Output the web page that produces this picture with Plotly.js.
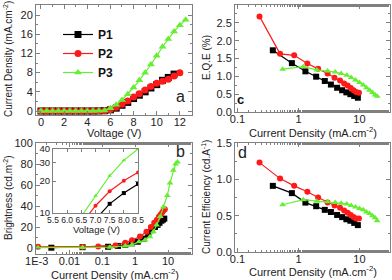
<!DOCTYPE html>
<html><head><meta charset="utf-8">
<script src="https://cdn.plot.ly/plotly-3.0.1.min.js"></script>
<style>html,body{margin:0;padding:0;background:#fff}#c{width:392px;height:280px}</style>
</head><body><div id="c"></div>
<script>
// ---- Panel a: J-V ----
const vP1 = [0,0.5,1,1.5,2,2.5,3,3.5,4,4.5,5,5.5,6,6.5,7,7.5,8,8.5,9,9.5,10,10.5,11,11.5];
const jP1 = [0,0,0,0,0,0,0,0,0,0,0.02,0.06,0.25,0.6,1.2,1.8,2.6,3.3,4.0,4.8,5.5,6.4,7.0,7.7];
const vP2 = [0,0.5,1,1.5,2,2.5,3,3.5,4,4.5,5,5.5,6,6.5,7,7.5,8,8.5,9,9.5,10,10.5,11,11.5,12];
const jP2 = [0,0,0,0,0,0,0,0,0,0,0.02,0.08,0.3,0.8,1.4,2.1,2.9,3.6,4.4,5.1,5.8,6.2,6.6,7.3,8.0];
const vP3 = [0,0.5,1,1.5,2,2.5,3,3.5,4,4.5,5,5.5,6,6.5,7,7.5,8,8.5,9,9.5,10,10.5,11,11.5,12,12.5];
const jP3 = [0,0,0,0,0,0,0,0,0,0,0.03,0.12,0.6,1.3,2.3,3.5,4.9,6.4,8.0,9.7,11.5,13.4,15.0,16.6,17.9,19.0];

// ---- Panel b: brightness vs current density ----
const bJ1 = [0.0028,0.025,0.15,0.3,0.5,0.8,1.2,1.8,2.5,3.2,4.0,4.8,5.5,6.3,7.0,7.7];
const bL1 = [0.3,0.8,1.2,2,3,4.5,6,9,13,17,20,22,24,26,27,28];
const bJ2 = [0.0011,0.025,0.075,0.25,0.5,0.8,1.4,2.2,3.0,3.8,4.6,5.3,6.0,6.7,7.4,8.0];
const bL2 = [1.2,1.0,1.5,2.5,5,7.5,11,15.5,20,24,27,30,32,34,36,37];
const bJ3 = [0.0011,0.025,0.17,0.5,0.8,1.3,2.0,2.8,3.6,4.5,5.8,7.2,9.5,11.5,14.5,17,19.5];
const bL3 = [0.3,0.5,0.8,2,3,6,7.6,10.8,15.5,22,30,39,50,62,74,80,82];

// ---- inset: brightness vs voltage (log) ----
const iV1 = [7.0,7.5,8.0,8.5];
const iL1 = [8.7,12.2,15.4,18.7];
const iV2 = [6.5,7.0,7.5,8.0,8.5];
const iL2 = [7.9,11.7,16.0,20.1,24.1];
const iV3 = [6.5,7.0,7.5,8.0,8.5];
const iL3 = [9.3,14.5,22.4,31.3,40.0];

// ---- Panels c, d: EQE and current efficiency vs current density ----
const cJ1 = [0.38,0.78,1.3,1.95,2.7,3.4,4.3,5.2,6.1,7.1,8.2,9.4];
const eqe1 = [1.73,1.37,1.14,0.99,0.87,0.77,0.68,0.61,0.55,0.50,0.45,0.40];
const ce1 = [0.91,0.81,0.68,0.63,0.58,0.55,0.51,0.48,0.45,0.43,0.40,0.37];
const cJ2 = [0.23,0.5,0.85,1.4,2.1,3.0,3.9,4.8,5.6,6.4,7.2,8.0,8.8,9.8];
const eqe2 = [2.68,1.63,1.59,1.36,1.21,1.08,0.96,0.88,0.80,0.74,0.67,0.61,0.56,0.54];
const ce2 = [1.23,1.01,0.91,0.83,0.75,0.68,0.64,0.61,0.57,0.54,0.51,0.48,0.46,0.46];
const cJ3 = [0.55,1.2,2.0,3.0,4.0,5.0,6.2,7.3,8.6,10,11.5,13,14.6,16.3,18,19.5];
const eqe3 = [1.20,1.27,1.18,1.15,1.12,1.08,1.03,0.97,0.90,0.83,0.76,0.68,0.61,0.55,0.48,0.44];
const ce3 = [0.65,0.72,0.70,0.69,0.68,0.67,0.66,0.64,0.62,0.60,0.58,0.55,0.53,0.50,0.47,0.43];

const names = ['P1','P2','P3'];
const colors = ['#000000','#ff1a1a','#66ee33'];
const symbols = ['square','circle','triangle-up'];
const FF = 'Liberation Sans, Arial, sans-serif';

function tr(x,y,i,xa,ya,ms,show){
  return {x:x,y:y,xaxis:xa,yaxis:ya,type:'scatter',mode:'lines+markers',name:names[i],
    showlegend:!!show,legendgroup:names[i],
    line:{color:colors[i],width:1.2},
    marker:{color:colors[i],symbol:symbols[i],size:ms,line:{width:0}}};
}
const data = [
  tr(vP1,jP1,0,'x','y',7,true), tr(vP2,jP2,1,'x','y',7,true), tr(vP3,jP3,2,'x','y',7,true),
  tr(bJ1,bL1,0,'x2','y2',6), tr(bJ2,bL2,1,'x2','y2',6), tr(bJ3,bL3,2,'x2','y2',6),
  tr(cJ1,eqe1,0,'x3','y3',6), tr(cJ2,eqe2,1,'x3','y3',6), tr(cJ3,eqe3,2,'x3','y3',6),
  tr(cJ1,ce1,0,'x4','y4',6), tr(cJ2,ce2,1,'x4','y4',6), tr(cJ3,ce3,2,'x4','y4',6),
  tr(iV1,iL1,0,'x5','y5',4), tr(iV2,iL2,1,'x5','y5',4), tr(iV3,iL3,2,'x5','y5',4)
];

function ax(extra){
  return Object.assign({showline:true,linecolor:'#808080',linewidth:1,mirror:'allticks',
    ticks:'inside',ticklen:4,tickcolor:'#808080',zeroline:false,showgrid:false,
    tickfont:{family:FF,size:11,color:'#222'},fixedrange:true},extra);
}
const H=280,W=392;
function px(a,b){return [a/W,b/W];}
function py(top,bot){return [1-bot/H,1-top/H];}
const logJticks = {tickvals:[0.1,1,10],ticktext:['0.1','1','10']};
const mn = {ticks:'inside',ticklen:2,tickcolor:'#808080'};

const layout = {
  width:W,height:H,margin:{l:0,r:0,t:0,b:0},paper_bgcolor:'#fff',plot_bgcolor:'#fff',
  font:{family:FF,color:'#222'},
  showlegend:true,
  legend:{x:58/W,y:1-20/H,xanchor:'left',yanchor:'top',bgcolor:'rgba(0,0,0,0)',
    font:{family:FF,size:12,color:'#111',weight:'bold'},tracegroupgap:0,itemwidth:30},
  xaxis:ax({domain:px(36,192),anchor:'y',range:[-0.43,13.05],dtick:2,ticklabelstandoff:-3,minor:Object.assign({dtick:1},mn)}),
  yaxis:ax({domain:py(5,115),anchor:'x',range:[-0.83,22.1],dtick:4,minor:Object.assign({dtick:2},mn)}),
  xaxis2:ax({domain:px(36,192),anchor:'y2',type:'log',range:[-3.02,1.73],ticklabelstandoff:-3,
    tickvals:[0.001,0.01,0.1,1,10],ticktext:['1E-3','0.01','0.1','1','10'],minor:mn}),
  yaxis2:ax({domain:py(143,254),anchor:'x2',range:[-5.7,100],dtick:20,minor:Object.assign({dtick:10},mn)}),
  xaxis3:ax(Object.assign({domain:px(235,390),anchor:'y3',type:'log',range:[-1.04,1.5],ticklabelstandoff:-3,minor:mn},logJticks)),
  yaxis3:ax({domain:py(5,112),anchor:'x3',range:[0,3],dtick:0.5,tickformat:'.1f',minor:Object.assign({dtick:0.25},mn)}),
  xaxis4:ax(Object.assign({domain:px(235,390),anchor:'y4',type:'log',range:[-1.04,1.5],ticklabelstandoff:-3,minor:mn},logJticks)),
  yaxis4:ax({domain:py(143,252),anchor:'x4',range:[0,1.5],dtick:0.5,tickformat:'.1f',minor:Object.assign({dtick:0.25},mn)}),
  xaxis5:ax({domain:px(53,138),anchor:'y5',range:[5.5,8.5],dtick:0.5,tickformat:'.1f',ticklen:3,tickangle:0,ticklabelstandoff:-1,tickfont:{family:FF,size:8.5,color:'#222'}}),
  yaxis5:ax({domain:py(149,213),anchor:'x5',type:'log',range:[1,Math.log10(40)],tickvals:[10,20,30,40],ticktext:['10','20','30','40'],ticklen:3,tickfont:{family:FF,size:9.5,color:'#222'}}),
  annotations:[]
};
function ann(text,x,y,size,rot,extra){
  return Object.assign({text:text,x:x/W,y:1-y/H,xref:'paper',yref:'paper',showarrow:false,
    xanchor:'center',yanchor:'middle',textangle:rot||0,font:{family:FF,size:size,color:'#222'}},extra||{});
}
const JT = 'Current Density (mA.cm<sup>-2</sup>)';
layout.annotations.push(
  ann('Voltage (V)',114,133,11),
  ann(JT,115,274,11),
  ann(JT,313,132,11),
  ann(JT,313,271,11),
  ann('Current Density (mA.cm<sup>-2</sup>)',8,59,10,-90),
  ann('Brightness (cd.m<sup>-2</sup>)',8,198,10,-90),
  ann('E.Q.E (%)',206,58,10,-90),
  ann('Current Efficiency (cd.A<sup>-1</sup>)',206,197,10,-90),
  ann('Voltage (V)',96,229,9.5),
  ann('a',180,96,16),
  ann('b',180,151,16),
  ann('c',240,99,13,0,{font:{family:FF,size:13,color:'#111',weight:'bold'}}),
  ann('d',242,152,16)
);
Plotly.newPlot('c',data,layout,{displayModeBar:false,staticPlot:true});
</script></body></html>
